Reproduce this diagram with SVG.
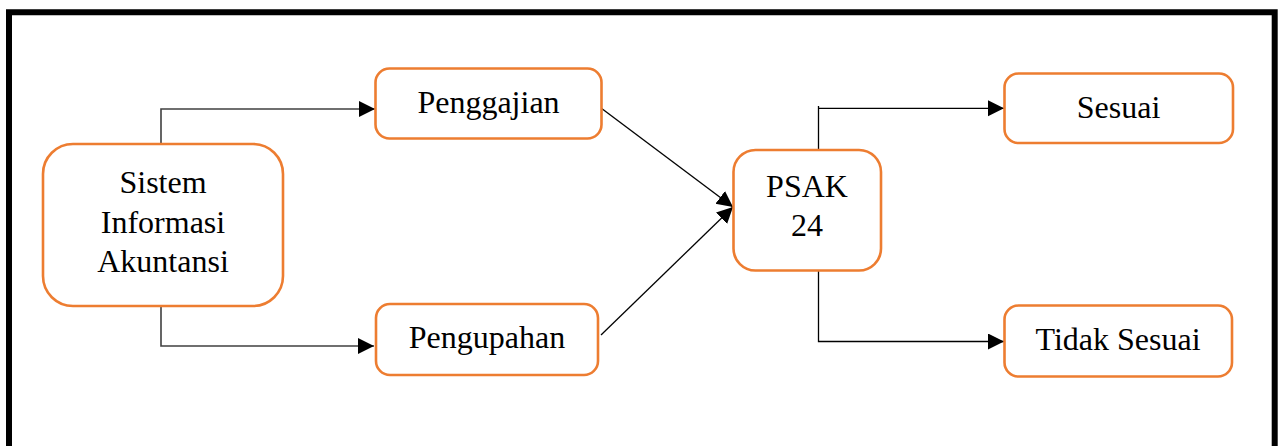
<svg xmlns="http://www.w3.org/2000/svg" width="1279" height="446" viewBox="0 0 1279 446">
  <style>
    .box { fill: #ffffff; stroke: #ED7D31; stroke-width: 2.6; }
    .label { font-family: "Liberation Serif", "Times New Roman", serif; font-size: 32px; fill: #000000; text-anchor: middle; }
    .link { fill: none; stroke: #000000; stroke-width: 1.3; }
    .link-grey { fill: none; stroke: #404040; stroke-width: 1.6; }
  </style>
  <defs>
    <marker id="arrow" markerUnits="userSpaceOnUse" markerWidth="17" markerHeight="17" refX="16" refY="8" orient="auto">
      <path d="M0,0 L16,8 L0,16 Z" fill="#000000"/>
    </marker>
  </defs>

  <rect width="1279" height="446" fill="#ffffff"/>

  <!-- outer frame (open at the bottom) -->
  <path d="M9,446 V12.3 H1274.7 V446" fill="none" stroke="#000000" stroke-width="6"/>

  <!-- connectors -->
  <g id="connectors">
    <path class="link-grey" d="M161,143 V109 H375" marker-end="url(#arrow)"/>
    <path class="link-grey" d="M161,306 V346 H374" marker-end="url(#arrow)"/>
    <path class="link" d="M601,108 L733,207" marker-end="url(#arrow)"/>
    <path class="link" d="M601,335 L733,207" marker-end="url(#arrow)"/>
    <path class="link" d="M818.5,150 V106 M818.5,108.3 H1004" marker-end="url(#arrow)"/>
    <path class="link" d="M818.5,271 V341.5 H1004" marker-end="url(#arrow)"/>
  </g>

  <g id="node-sia">
    <rect class="box" x="43" y="144" width="240" height="162" rx="30" ry="30"/>
    <text class="label" x="163" y="193">Sistem</text>
    <text class="label" x="163" y="232.5">Informasi</text>
    <text class="label" x="163" y="272">Akuntansi</text>
  </g>

  <g id="node-penggajian">
    <rect class="box" x="375.5" y="68.5" width="226" height="70" rx="14" ry="14"/>
    <text class="label" x="488.5" y="113">Penggajian</text>
  </g>

  <g id="node-pengupahan">
    <rect class="box" x="376" y="304" width="222" height="71" rx="14" ry="14"/>
    <text class="label" x="487" y="348">Pengupahan</text>
  </g>

  <g id="node-psak">
    <rect class="box" x="733.5" y="150" width="147.5" height="120.5" rx="22" ry="22"/>
    <text class="label" x="807" y="196.5">PSAK</text>
    <text class="label" x="807" y="236">24</text>
  </g>

  <g id="node-sesuai">
    <rect class="box" x="1004.5" y="73.5" width="228.5" height="69.5" rx="14" ry="14"/>
    <text class="label" x="1118.5" y="117.5">Sesuai</text>
  </g>

  <g id="node-tidak-sesuai">
    <rect class="box" x="1004.5" y="305.5" width="227.5" height="71" rx="14" ry="14"/>
    <text class="label" x="1118" y="350">Tidak Sesuai</text>
  </g>
</svg>
